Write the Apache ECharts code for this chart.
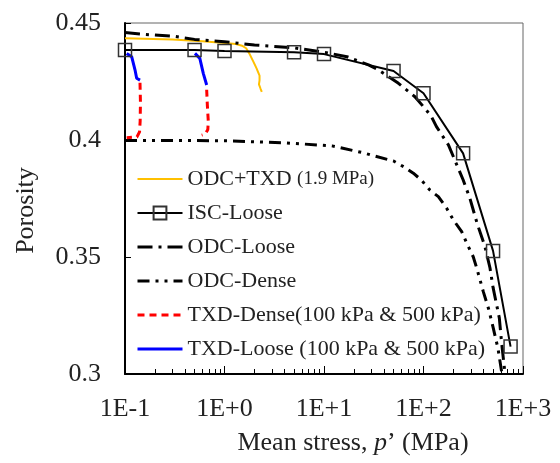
<!DOCTYPE html>
<html>
<head>
<meta charset="utf-8">
<script src="https://cdn.jsdelivr.net/npm/echarts@6/dist/echarts.min.js"></script>
<style>
    html, body { margin: 0; padding: 0; background: #fff; }
    #chart { width: 560px; height: 463px; }
</style>
</head>
<body>
<div id="chart"></div>
<script>
    // values (x = mean stress in MPa, y = porosity)
    const odcTxdX = [0.1, 0.3, 0.6, 1, 1.3, 1.5, 1.65, 1.8, 1.95, 2.1, 2.25, 2.25, 2.22, 2.3, 2.37];
    const odcTxdY = [0.4435, 0.443, 0.4422, 0.4415, 0.441, 0.4403, 0.4392, 0.4365, 0.4335, 0.4306, 0.4275, 0.4255, 0.4238, 0.422, 0.4206];

    const iscLooseX = [0.1, 0.5, 1, 5, 10, 50, 100, 250, 500, 750];
    const iscLooseY = [0.4385, 0.4385, 0.438, 0.4375, 0.4367, 0.4295, 0.420, 0.3943, 0.3526, 0.3117];

    const odcLooseX = [0.1, 0.15, 0.3, 0.5, 1, 2, 5, 10, 17, 28, 35, 56, 82, 100, 119, 135, 178, 250, 293, 345, 415, 466, 500, 578, 611, 660];
    const odcLooseY = [0.4459, 0.4452, 0.4444, 0.443, 0.442, 0.4406, 0.4394, 0.4375, 0.4356, 0.4321, 0.430, 0.4242, 0.4185, 0.4142, 0.4103, 0.4057, 0.3979, 0.383, 0.375, 0.3645, 0.3544, 0.3453, 0.337, 0.324, 0.313, 0.300];

    const odcDenseX = [0.1, 0.3, 1, 4, 12, 25, 32, 50, 63, 79, 95, 116, 141, 171, 200, 242, 272, 316, 343, 370, 399, 450, 500, 560, 615];
    const odcDenseY = [0.3998, 0.3998, 0.3997, 0.3988, 0.3975, 0.3945, 0.3932, 0.391, 0.3886, 0.3858, 0.3829, 0.3786, 0.3758, 0.3708, 0.3658, 0.3608, 0.3559, 0.3501, 0.3452, 0.3402, 0.3352, 0.328, 0.320, 0.311, 0.300];

    // triaxial drained tests at 100 kPa and 500 kPa
    const txdDense100X = [0.1415, 0.143, 0.142, 0.14, 0.132, 0.104];
    const txdDense100Y = [0.4245, 0.416, 0.408, 0.4035, 0.4013, 0.401];
    const txdDense500X = [0.662, 0.672, 0.687, 0.68, 0.64, 0.59];
    const txdDense500Y = [0.4215, 0.415, 0.408, 0.4045, 0.4025, 0.4021];

    const txdLoose100X = [0.104, 0.1167, 0.126, 0.131, 0.1415];
    const txdLoose100Y = [0.437, 0.4356, 0.430, 0.4264, 0.4256];
    const txdLoose500X = [0.505, 0.565, 0.612, 0.662];
    const txdLoose500Y = [0.437, 0.4349, 0.4285, 0.4235];

    const names = ['ODC+TXD (1.9 MPa)', 'ISC-Loose', 'ODC-Loose', 'ODC-Dense',
        'TXD-Dense(100 kPa & 500 kPa)', 'TXD-Loose (100 kPa & 500 kPa)'];

    const font = 'Liberation Serif';

    function pairs(xs, ys) {
        return xs.map((x, i) => [x, ys[i]]);
    }

    function lineSeries(name, xs, ys, color, width, type) {
        return {
            name: name,
            type: 'line',
            data: pairs(xs, ys),
            symbol: 'none',
            smooth: false,
            animation: false,
            lineStyle: { color: color, width: width, type: type },
            itemStyle: { color: color }
        };
    }

    // legend entries: only ISC-Loose keeps its marker
    const legendWidths = [2, 2, 3, 3, 3, 3];
    const legendData = names.map((n, i) => n === 'ISC-Loose'
        ? { name: n, lineStyle: { width: legendWidths[i] } }
        : { name: n, itemStyle: { opacity: 0 }, lineStyle: { width: legendWidths[i] } });

    const chart = echarts.init(document.getElementById('chart'));
    chart.setOption({
        animation: false,
        grid: {
            left: 125, right: 37, top: 23, bottom: 89,
            show: true, borderColor: '#666', borderWidth: 1
        },
        legend: {
            orient: 'vertical',
            left: 131,
            top: 163,
            itemWidth: 45,
            itemHeight: 16,
            itemGap: 12,
            data: legendData,
            textStyle: {
                fontFamily: font, fontSize: 22, color: '#222', lineHeight: 22,
                rich: {
                    s: { fontFamily: font, fontSize: 19, color: '#222' }
                }
            },
            formatter: function (name) {
                return name.replace('(1.9 MPa)', '{s|(1.9 MPa)}');
            }
        },
        xAxis: {
            type: 'log',
            logBase: 10,
            min: 0.1,
            max: 1000,
            name: 'Mean stress, {i|p}’ (MPa)',
            nameLocation: 'middle',
            nameGap: 56,
            nameTextStyle: {
                fontFamily: font, fontSize: 26, color: '#222',
                padding: [0, 0, 0, 58],
                rich: { i: { fontFamily: font, fontSize: 26, fontStyle: 'italic', color: '#222' } }
            },
            axisLine: { lineStyle: { color: '#000', width: 2 } },
            axisTick: { inside: true, length: 8, lineStyle: { color: '#000' } },
            minorTick: { show: true, splitNumber: 9, length: 5, lineStyle: { color: '#000' } },
            splitLine: { show: false },
            minorSplitLine: { show: false },
            axisLabel: {
                margin: 22,
                fontFamily: font, fontSize: 26, color: '#222',
                formatter: function (v) {
                    const e = Math.round(Math.log10(v));
                    return '1E' + (e >= 0 ? '+' : '') + e;
                }
            }
        },
        yAxis: {
            type: 'value',
            min: 0.3,
            max: 0.45,
            interval: 0.05,
            name: 'Porosity',
            nameLocation: 'middle',
            nameGap: 86,
            nameTextStyle: { fontFamily: font, fontSize: 26, color: '#222', padding: [0, 24, 0, 0] },
            axisLine: { show: true, lineStyle: { color: '#000', width: 2 } },
            axisTick: { show: true, inside: true, length: 6, lineStyle: { color: '#000' } },
            splitLine: { show: false },
            axisLabel: { margin: 24, fontFamily: font, fontSize: 26, color: '#222' }
        },
        series: [
            lineSeries(names[0], odcTxdX, odcTxdY, '#FFC000', 2, 'solid'),
            Object.assign(lineSeries(names[1], iscLooseX, iscLooseY, '#000', 2, 'solid'), {
                symbol: 'rect',
                symbolSize: 13,
                itemStyle: { color: 'rgba(255,255,255,0)', borderColor: '#333', borderWidth: 1.5 }
            }),
            lineSeries(names[2], odcLooseX, odcLooseY, '#000', 3, [15, 6, 3, 6]),
            lineSeries(names[3], odcDenseX, odcDenseY, '#000', 3, [12, 6, 3, 6, 3, 6]),
            lineSeries(names[4], txdDense100X, txdDense100Y, '#FF0000', 3, [7, 5]),
            lineSeries(names[4], txdDense500X, txdDense500Y, '#FF0000', 3, [7, 5]),
            lineSeries(names[5], txdLoose100X, txdLoose100Y, '#0000FF', 3, 'solid'),
            lineSeries(names[5], txdLoose500X, txdLoose500Y, '#0000FF', 3, 'solid')
        ]
    });
</script>
</body>
</html>
